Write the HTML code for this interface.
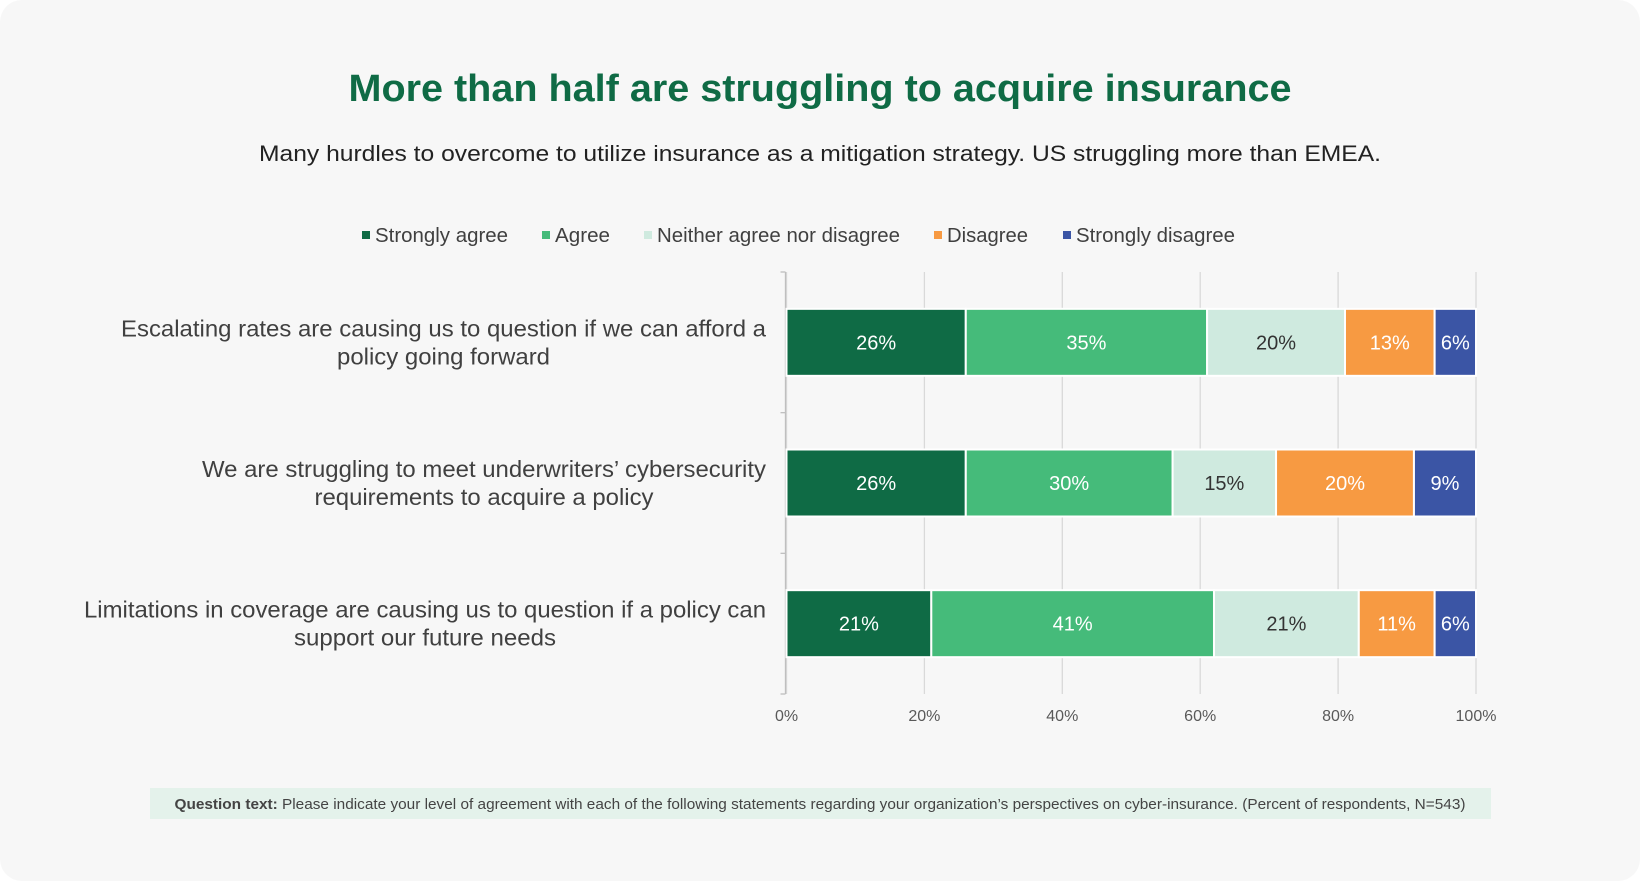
<!DOCTYPE html>
<html><head><meta charset="utf-8"><style>
html,body{margin:0;padding:0;background:#fff;}
#wrap{position:absolute;left:0;top:0;width:1640px;height:881px;background:#f7f7f7;border-radius:22px;overflow:hidden;}
svg{position:absolute;left:0;top:0;}
text{font-family:"Liberation Sans",Arial,sans-serif;}
</style></head><body>
<div id="wrap">
<svg id="chart" width="1640" height="881">
<text x="820" y="101" text-anchor="middle" font-size="38" font-weight="bold" fill="#0f6b45" textLength="943" lengthAdjust="spacingAndGlyphs">More than half are struggling to acquire insurance</text>
<text x="820" y="161" text-anchor="middle" font-size="22" fill="#222" textLength="1122" lengthAdjust="spacingAndGlyphs">Many hurdles to overcome to utilize insurance as a mitigation strategy. US struggling more than EMEA.</text>
<g id="legend"></g>
<g id="grid"></g>
<g id="bars"></g>
<g id="cats"></g>
<g id="ticks"></g>
<rect x="150" y="788" width="1341" height="31" fill="#e4f2eb"/>
<text x="820" y="809" text-anchor="middle" font-size="14.5" fill="#444" textLength="1291" lengthAdjust="spacingAndGlyphs"><tspan font-weight="bold">Question text:</tspan> Please indicate your level of agreement with each of the following statements regarding your organization’s perspectives on cyber-insurance. (Percent of respondents, N=543)</text>
</svg>
</div>
<script>
const series = ["Strongly agree","Agree","Neither agree nor disagree","Disagree","Strongly disagree"];
const colors = ["#0f6b45","#45bb7a","#cfeadf","#f79a42","#3b55a5"];
const textColors = ["#fff","#fff","#333","#fff","#fff"];
const strongAgree = [26,26,21];
const agree = [35,30,41];
const neither = [20,15,21];
const disagree = [13,20,11];
const strongDisagree = [6,9,6];
const catLine1 = ["Escalating rates are causing us to question if we can afford a","We are struggling to meet underwriters’ cybersecurity","Limitations in coverage are causing us to question if a policy can"];
const catLine2 = ["policy going forward","requirements to acquire a policy","support our future needs"];
const tickVals = [0,20,40,60,80,100];
const legendX = [362,542,644,934,1063];
const legendW = [133,55,243,81,159];

const NS="http://www.w3.org/2000/svg";
function mk(tag,attrs,parent){const e=document.createElementNS(NS,tag);for(const k in attrs)e.setAttribute(k,attrs[k]);parent.appendChild(e);return e;}
const X0=786.5,X1=1476,Y_TOP=272,Y_BOTTOM=694;
const xs=v=>X0+(X1-X0)*v/100;
const rowH=(Y_BOTTOM-Y_TOP)/3;
const ys=i=>Y_TOP+rowH*i+rowH/2;
const barH=67;
const vals=[strongAgree,agree,neither,disagree,strongDisagree];

const grid=document.getElementById('grid');
tickVals.forEach(t=>{
  const l=mk('line',{x1:xs(t),x2:xs(t),y1:Y_TOP,y2:Y_BOTTOM,stroke:'#d9d9d9','stroke-width':1.3},grid);
  
  
  const tx=mk('text',{x:xs(t),y:721,'text-anchor':'middle','font-size':16,fill:'#595959'},document.getElementById('ticks'));
  tx.textContent=t+'%';
  
  
});
const ax=mk('line',{x1:X0-1,x2:X0-1,y1:Y_TOP,y2:Y_BOTTOM,stroke:'#bfbfbf','stroke-width':1.3},grid);


for(let i=0;i<=3;i++){
  const tk=mk('line',{x1:X0-6,x2:X0-1,y1:Y_TOP+rowH*i,y2:Y_TOP+rowH*i,stroke:'#bfbfbf','stroke-width':1.3},grid);
  
  
}

const bars=document.getElementById('bars');
const cats=document.getElementById('cats');
const lens1=[645,564,682];
const lens2=[213,339,262];
for(let r=0;r<3;r++){
  let cum=0;
  const cy=ys(r);
  for(let s=0;s<5;s++){
    const v=vals[s][r];
    const x=xs(cum),w=xs(cum+v)-xs(cum);
    const rc=mk('rect',{x:x,y:cy-barH/2,width:w,height:barH,fill:colors[s],stroke:'#fff','stroke-width':2},bars);
    
    
    const t=mk('text',{x:x+w/2,y:cy+7,'text-anchor':'middle','font-size':20,fill:textColors[s]},bars);
    t.textContent=v+'%';
    
    
    cum+=v;
  }
  const t1=mk('text',{x:766-lens1[r]/2,y:cy-6,'text-anchor':'middle','font-size':23,fill:'#404040',textLength:lens1[r],lengthAdjust:'spacingAndGlyphs'},cats);
  t1.textContent=catLine1[r];
  
  
  const t2=mk('text',{x:766-lens1[r]/2,y:cy+22,'text-anchor':'middle','font-size':23,fill:'#404040',textLength:lens2[r],lengthAdjust:'spacingAndGlyphs'},cats);
  t2.textContent=catLine2[r];
  
  
}

const lg=document.getElementById('legend');
series.forEach((s,i)=>{
  const m=mk('rect',{x:legendX[i],y:231,width:8,height:8,fill:colors[i]},lg);
  
  
  const t=mk('text',{x:legendX[i]+13,y:242,'font-size':20,fill:'#404040',textLength:legendW[i],lengthAdjust:'spacingAndGlyphs'},lg);
  t.textContent=s;
  
  
});
</script>
</body></html>
